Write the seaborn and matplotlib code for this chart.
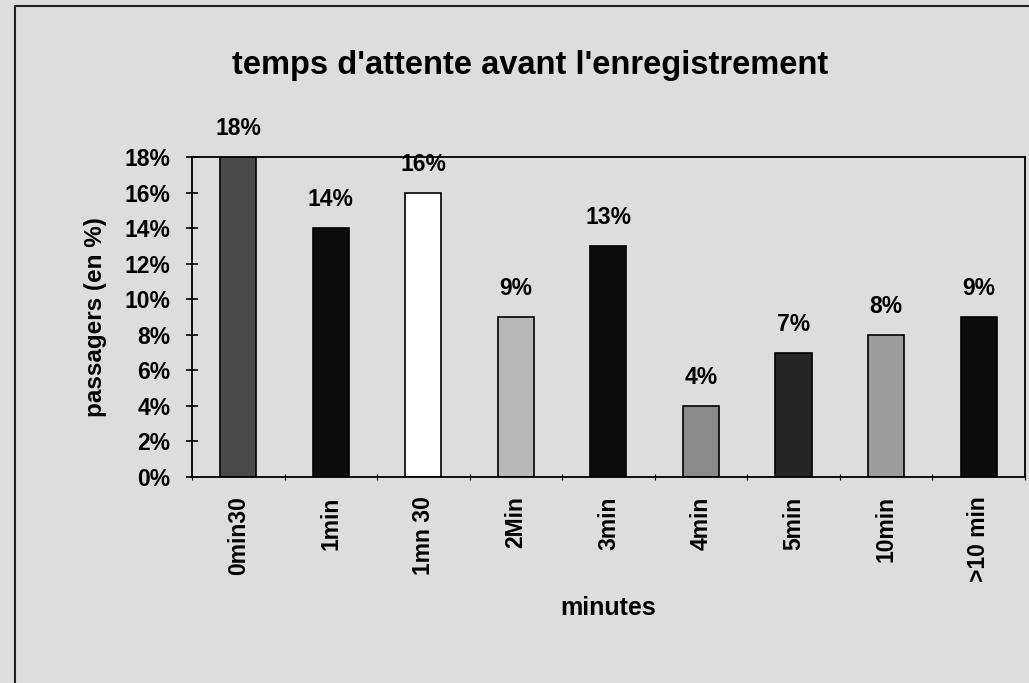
import matplotlib
matplotlib.use('Agg')
import matplotlib.pyplot as plt
import seaborn as sns
import pandas as pd
import numpy as np
from matplotlib.lines import Line2D
from matplotlib.ticker import PercentFormatter


categories = ['0min30', '1min', '1mn 30', '2Min', '3min', '4min', '5min', '10min', '>10 min']
values = [18, 14, 16, 9, 13, 4, 7, 8, 9]
bar_colors = ['#4a4a4a', '#0c0c0c', '#ffffff', '#b8b8b8', '#0c0c0c',
              '#8a8a8a', '#262626', '#9c9c9c', '#0c0c0c']

BG = '#dddddd'

sns.set_style('white')
plt.rcParams['font.family'] = ['Liberation Sans', 'DejaVu Sans']
plt.rcParams['text.color'] = 'black'
plt.rcParams['axes.labelcolor'] = 'black'
plt.rcParams['xtick.color'] = 'black'
plt.rcParams['ytick.color'] = 'black'

df = pd.DataFrame({'minutes': categories, 'pct': values})

fig = plt.figure(figsize=(10.29, 6.83), dpi=100, facecolor=BG)
ax = fig.add_axes([0.1866, 0.3016, 0.8094, 0.4685])
ax.set_facecolor(BG)

sns.barplot(data=df, x='minutes', y='pct', hue='minutes',
            palette=dict(zip(categories, bar_colors)), legend=False,
            width=0.39, edgecolor='black', linewidth=1.2, saturation=1, ax=ax)

for c in ax.containers:
    ax.bar_label(c, labels=[f'{v:g}%' for v in c.datavalues], padding=12,
                 fontsize=16.5, fontweight='bold', color='black')

ax.set_ylim(0, 18)
ax.set_xlim(-0.5, len(categories) - 0.5)
ax.set_yticks(np.arange(0, 19, 2))
ax.yaxis.set_major_formatter(PercentFormatter(decimals=0))
ax.tick_params(axis='y', direction='inout', length=9, width=1.2, labelsize=16.5,
               left=True, pad=11)
ax.tick_params(axis='x', length=0, labelsize=16.5, labelrotation=90, pad=14)
ax.set_xticks(np.arange(-0.5, len(categories), 1), minor=True)
ax.tick_params(axis='x', which='minor', direction='inout', length=5, width=0.8, bottom=True)
for lbl in ax.get_xticklabels() + ax.get_yticklabels():
    lbl.set_fontweight('bold')

for s in ax.spines.values():
    s.set_visible(True)
    s.set_color('black')
    s.set_linewidth(1.3)

ax.set_xlabel('minutes', fontsize=18, fontweight='bold', labelpad=10)
ax.set_ylabel('passagers (en %)', fontsize=17.5, fontweight='bold', labelpad=13)
fig.suptitle("temps d'attente avant l'enregistrement", x=0.515, y=0.927,
             fontsize=23.5, fontweight='bold')

# outer chart frame from the scan
fig.add_artist(Line2D([0.0146, 0.0146], [0.0, 0.991], color='#222222', lw=1.5))
fig.add_artist(Line2D([0.0146, 1.0], [0.991, 0.991], color='#222222', lw=1.5))

plt.savefig('out.png', dpi=100, facecolor=BG)
